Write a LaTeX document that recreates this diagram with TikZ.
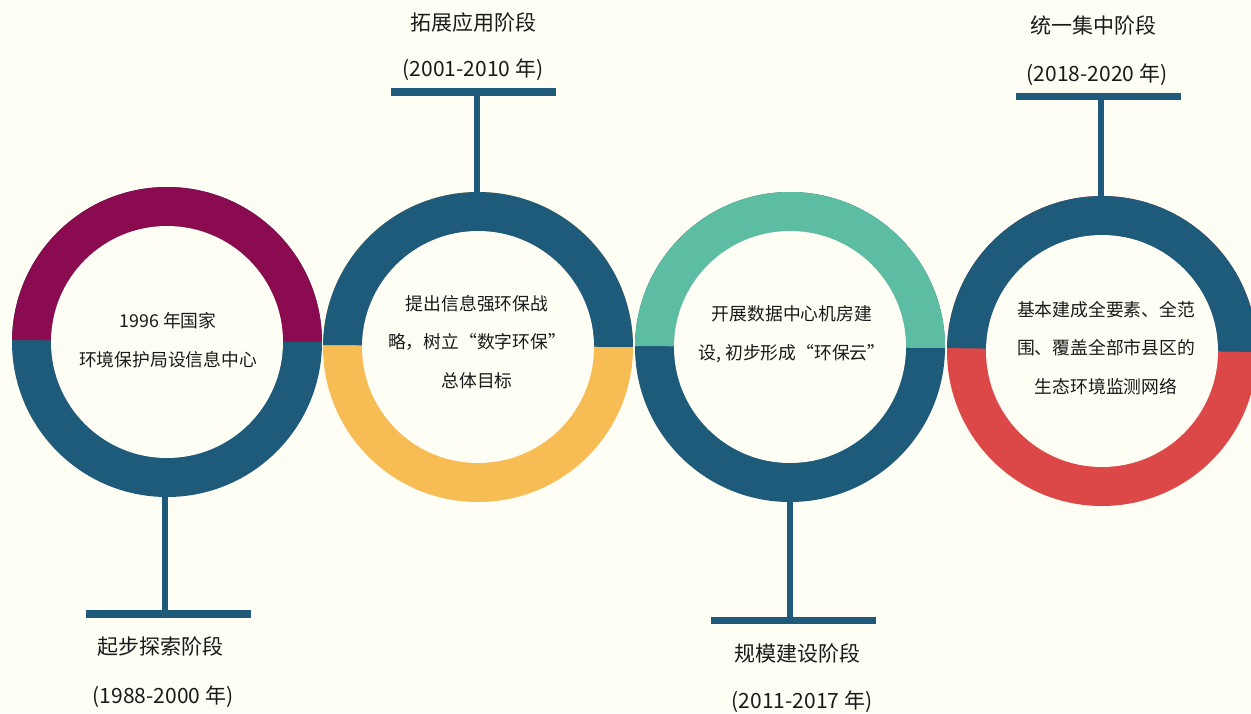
\documentclass[tikz,border=0pt]{standalone}
\usepackage{fontspec}
\setmainfont{Noto Sans CJK SC}
\definecolor{paper}{HTML}{FFFEF5}
\definecolor{navy}{HTML}{1E5A79}
\definecolor{plum}{HTML}{8A0B4F}
\definecolor{amber}{HTML}{F8BC55}
\definecolor{mint}{HTML}{5CBDA2}
\definecolor{coral}{HTML}{DC4848}
\definecolor{ink}{HTML}{1A1A1A}

% split ring: name, cx, cy, upper colour, lower colour, left/right offset of the split line
\newcommand\splitring[7]{%
  \fill[#5] (#2,#3) circle[radius=155pt];
  \begin{scope}
    \clip (#2-160,#3+#6) -- (#2+160,#3+#7) -- (#2+160,#3-160) -- (#2-160,#3-160) -- cycle;
    \fill[#4] (#2,#3) circle[radius=155pt];
  \end{scope}
  \node[ringout] (#1) at (#2,#3) {};
  \node[ringhole] (#1-in) at (#2,#3) {};
}

\begin{document}
\begin{tikzpicture}[x=1pt,y=-1pt,
  ringout/.style={circle,minimum size=310pt,inner sep=0pt},
  ringhole/.style={circle,fill=paper,minimum size=232pt,inner sep=0pt},
  bar/.style={rectangle,fill=navy,minimum width=165pt,minimum height=7.5pt,inner sep=0pt},
  stem/.style={draw=navy,line width=6.5pt},
  ringtext/.style={text=ink,font=\fontsize{17.8}{38.5}\selectfont,align=center,inner sep=0pt},
  stagetext/.style={text=ink,font=\fontsize{21}{25}\selectfont,inner sep=0pt}]

\fill[paper] (0,0) rectangle (1251,713);
\useasboundingbox (0,0) rectangle (1251,713);

% the four rings
\splitring{r1}{167}{342}{plum}{navy}{-2}{0}
\splitring{r2}{478}{347}{navy}{amber}{-2}{0}
\splitring{r3}{790}{347}{mint}{navy}{-1}{1}
\splitring{r4}{1102}{351}{navy}{coral}{-3}{1}

% bars with their stems
\node[bar] (b1) at (168.5,614) {};
\node[bar] (b2) at (473.5,92) {};
\node[bar] (b3) at (793.5,620.5) {};
\node[bar] (b4) at (1098.5,96.5) {};
\draw[stem] ([xshift=-2pt]r1.south) -- ([xshift=-2pt]r1.south |- b1.center);
\draw[stem] ([xshift=-1pt]r2.north) -- ([xshift=-1pt]r2.north |- b2.center);
\draw[stem] (r3.south) -- (r3.south |- b3.center);
\draw[stem] ([xshift=-1pt]r4.north) -- ([xshift=-1pt]r4.north |- b4.center);

% text inside the rings
\node[ringtext] (t1) at (168,340) {1996 年国家\\环境保护局设信息中心};
\node[ringtext] (t2) at (477,342) {提出信息强环保战\\略，树立“数字环保”\\总体目标};
\node[ringtext] (t3) at (792,334) {开展数据中心机房建\\设, 初步形成“环保云”};
\node[ringtext] (t4) at (1106,348) {基本建成全要素、全范\\围、覆盖全部市县区的\\生态环境监测网络};

% stage names and years
\node[stagetext] (s1) at (160,647) {起步探索阶段};
\node[stagetext] (y1) at (163,697) {(1988-2000 年)};
\node[stagetext] (s2) at (473,23) {拓展应用阶段};
\node[stagetext] (y2) at (473,70) {(2001-2010 年)};
\node[stagetext] (s3) at (797,653) {规模建设阶段};
\node[stagetext] (y3) at (802,702) {(2011-2017 年)};
\node[stagetext] (s4) at (1093,25) {统一集中阶段};
\node[stagetext] (y4) at (1097,75) {(2018-2020 年)};
\end{tikzpicture}
\end{document}
